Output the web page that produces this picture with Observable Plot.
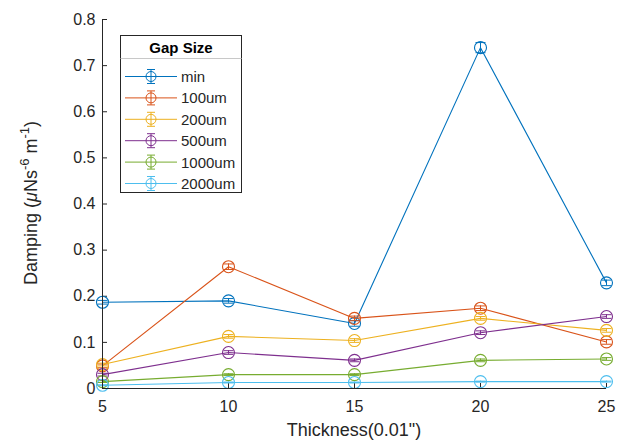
<!DOCTYPE html>
<html><head><meta charset="utf-8">
<script src="https://cdn.jsdelivr.net/npm/d3@7"></script>
<script src="https://cdn.jsdelivr.net/npm/@observablehq/plot@0.6"></script>
<style>
html,body{margin:0;padding:0;background:#fff;}
#chart{width:624px;height:441px;}
</style></head><body><div id="chart"></div>
<script>
// ---- data ----
const thickness = [5, 10, 15, 20, 25];
const seriesNames = ["min", "100um", "200um", "500um", "1000um", "2000um"];
const seriesColors = ["#0072BD", "#D95319", "#EDB120", "#7E2F8E", "#77AC30", "#4DBEEE"];
const dampMin  = [0.187, 0.190, 0.141, 0.739, 0.229];
const damp100  = [0.049, 0.264, 0.152, 0.174, 0.101];
const damp200  = [0.052, 0.113, 0.104, 0.152, 0.126];
const damp500  = [0.030, 0.078, 0.061, 0.121, 0.156];
const damp1000 = [0.015, 0.030, 0.030, 0.061, 0.064];
const damp2000 = [0.007, 0.013, 0.013, 0.015, 0.015];
const errMin  = [0.004, 0.005, 0.006, 0.011, 0.006];
const err100  = [0.004, 0.006, 0.005, 0.005, 0.005];
const err200  = [0.003, 0.004, 0.004, 0.004, 0.004];
const err500  = [0.003, 0.004, 0.003, 0.004, 0.004];
const err1000 = [0.002, 0.002, 0.002, 0.003, 0.003];
const err2000 = [0.001, 0.001, 0.001, 0.001, 0.001];
const xTicks = [5, 10, 15, 20, 25];
const xTickLabels = ["5", "10", "15", "20", "25"];
const yTicks = [0, 0.1, 0.2, 0.3, 0.4, 0.5, 0.6, 0.7, 0.8];
const yTickLabels = ["0", "0.1", "0.2", "0.3", "0.4", "0.5", "0.6", "0.7", "0.8"];
const xLabel = "Thickness(0.01\")";
const legendTitle = "Gap Size";

const seriesValues = [dampMin, damp100, damp200, damp500, damp1000, damp2000];
const seriesErrors = [errMin, err100, err200, err500, err1000, err2000];

const AX = "#262626";
const capSymbol = {draw(ctx, size) { const w = Math.sqrt(size / Math.PI); ctx.moveTo(-w, 0); ctx.lineTo(w, 0); }};

const marks = [];
seriesNames.forEach((name, si) => {
  const rows = thickness.map((t, i) => ({x: t, y: seriesValues[si][i], lo: seriesValues[si][i] - seriesErrors[si][i], hi: seriesValues[si][i] + seriesErrors[si][i]}));
  const c = seriesColors[si];
  marks.push(Plot.line(rows, {x: "x", y: "y", stroke: c, strokeWidth: 1.1}));
  marks.push(Plot.ruleX(rows, {x: "x", y1: "lo", y2: "hi", stroke: c, strokeWidth: 1}));
  marks.push(Plot.dot(rows, {x: "x", y: "lo", symbol: capSymbol, r: 5, fill: "none", stroke: c, strokeWidth: 1}));
  marks.push(Plot.dot(rows, {x: "x", y: "hi", symbol: capSymbol, r: 5, fill: "none", stroke: c, strokeWidth: 1}));
  marks.push(Plot.dot(rows, {x: "x", y: "y", r: 6, fill: "none", stroke: c, strokeWidth: 1.1}));
});

const plot = Plot.plot({
  width: 624,
  height: 441,
  marginLeft: 102,
  marginRight: 18,
  marginTop: 19,
  marginBottom: 53,
  style: {fontFamily: "'Liberation Sans', Arial, sans-serif", fontSize: "16px", color: AX, background: "#fff"},
  x: {domain: [5, 25], label: null},
  y: {domain: [0, 0.8], label: null},
  marks: [
    Plot.axisY(yTicks, {anchor: "left", tickSize: 0, tickPadding: 7, tickFormat: d => yTickLabels[yTicks.indexOf(d)], fill: AX, label: null}),
    Plot.axisY(yTicks, {anchor: "left", tickSize: 5, dx: 5, tickFormat: () => "", stroke: AX, label: null}),
    Plot.axisX(xTicks, {anchor: "bottom", tickSize: 0, tickPadding: 12, tickFormat: d => xTickLabels[xTicks.indexOf(d)], fill: AX, label: null}),
    Plot.axisX(xTicks, {anchor: "bottom", tickSize: 5, dy: -5, tickFormat: () => "", stroke: AX, label: null}),
    ...marks,
    Plot.ruleX([5], {stroke: AX, strokeWidth: 1}),
    Plot.ruleY([0], {stroke: AX, strokeWidth: 1})
  ]
});
document.getElementById("chart").appendChild(plot);

const svg = d3.select(plot);
// axis labels
svg.append("text").attr("x", 354).attr("y", 436).attr("text-anchor", "middle")
  .attr("font-size", 18).attr("fill", AX).text(xLabel);
const yl = svg.append("text").attr("transform", "translate(37,203) rotate(-90)")
  .attr("text-anchor", "middle").attr("font-size", 18).attr("fill", AX);
yl.append("tspan").text("Damping (");
yl.append("tspan").attr("font-style", "italic").text("μ");
yl.append("tspan").text("Ns");
yl.append("tspan").attr("dy", -8).attr("font-size", 13).text("-6");
yl.append("tspan").attr("dy", 8).text(" m");
yl.append("tspan").attr("dy", -8).attr("font-size", 13).text("-1");
yl.append("tspan").attr("dy", 8).text(")");

// legend
const lg = svg.append("g");
lg.append("rect").attr("x", 120.5).attr("y", 35.5).attr("width", 121).attr("height", 157)
  .attr("fill", "#fff").attr("stroke", AX).attr("stroke-width", 1);
lg.append("line").attr("x1", 120.5).attr("x2", 241.5).attr("y1", 58.5).attr("y2", 58.5)
  .attr("stroke", "#c8c8c8").attr("stroke-width", 1);
lg.append("text").attr("x", 181).attr("y", 53).attr("text-anchor", "middle")
  .attr("font-size", 15).attr("font-weight", "bold").attr("fill", "#000").text(legendTitle);
seriesNames.forEach((name, i) => {
  const y = 76.5 + i * 21.4;
  const c = seriesColors[i];
  const g = lg.append("g").attr("stroke", c).attr("fill", "none");
  g.append("line").attr("x1", 125).attr("x2", 177).attr("y1", y).attr("y2", y);
  g.append("line").attr("x1", 151).attr("x2", 151).attr("y1", y - 7).attr("y2", y + 7);
  g.append("line").attr("x1", 147).attr("x2", 155).attr("y1", y - 7).attr("y2", y - 7);
  g.append("line").attr("x1", 147).attr("x2", 155).attr("y1", y + 7).attr("y2", y + 7);
  g.append("circle").attr("cx", 151).attr("cy", y).attr("r", 5);
  lg.append("text").attr("x", 181).attr("y", y).attr("dy", "0.36em").attr("font-size", 15)
    .attr("text-anchor", "start").attr("fill", AX).text(name);
});
</script>
</body></html>
